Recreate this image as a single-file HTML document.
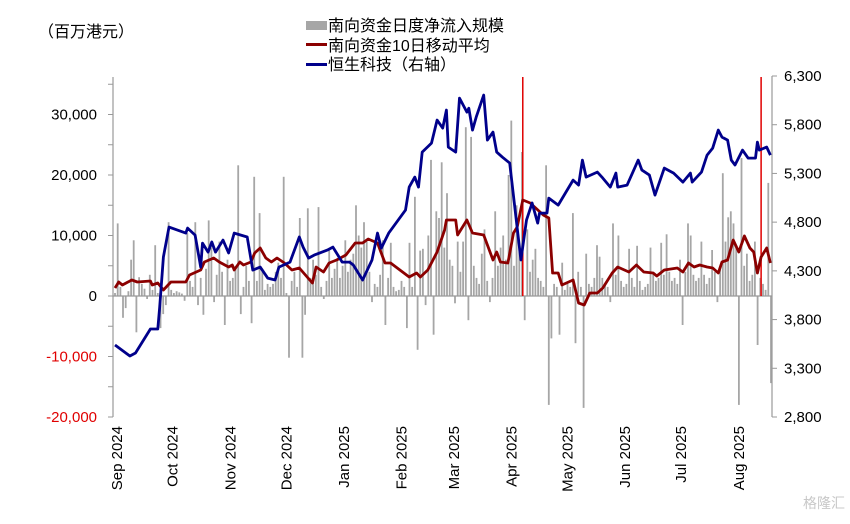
<!DOCTYPE html>
<html><head><meta charset="utf-8"><style>
html,body{margin:0;padding:0;background:#fff;width:850px;height:524px;overflow:hidden}
svg{display:block;font-family:"Liberation Sans","Noto Sans CJK SC",sans-serif}
</style></head><body>
<svg id="chart" width="850" height="524" viewBox="0 0 850 524">
<text x="38" y="37" font-size="16" fill="#000">（百万港元）</text>
<g>
<rect x="306" y="21" width="21" height="9" fill="#a6a6a6"/>
<text x="328" y="31" font-size="16">南向资金日度净流入规模</text>
<rect x="306" y="43" width="21" height="3" fill="#8b0000"/>
<text x="328" y="51" font-size="16">南向资金10日移动平均</text>
<rect x="306" y="63" width="21" height="3" fill="#00008b"/>
<text x="328" y="70" font-size="16">恒生科技（右轴）</text>
</g>
<g id="bars"></g>
<g id="axes"></g>
<g id="lines"></g>
<text x="845" y="508" font-size="14" fill="#c8c8c8" text-anchor="end">格隆汇</text>
</svg>
<script>
const flows=[500,12000,1500,-3600,-2000,800,6000,9200,-6000,3100,
2000,1200,-500,3500,1000,8400,500,-5300,-3000,-1500,
12200,1000,500,800,600,400,-800,10400,2500,1500,
12200,-1500,3000,-3100,4500,12500,8000,-1000,3500,9000,
4000,-4800,6000,2500,3000,5000,21600,-3000,1500,5000,
2500,-4500,19700,2500,13700,4500,1000,2000,1500,2000,
4000,5500,3000,19700,500,-10200,2500,4000,1500,12900,
-10200,-3100,14500,3000,6000,3500,14700,1500,-500,2500,
7500,3000,4500,6000,3000,5000,9200,4000,6000,7000,
15000,10000,8000,12200,9000,4000,-1000,2000,1500,3500,
9200,-4800,3000,8800,1500,800,1000,2500,1500,-5300,
8800,1500,16400,-8900,7500,7800,-1500,10000,22500,-6400,
14000,12900,22100,8000,17000,6000,5000,-1200,9000,4000,
9000,27900,-4000,26300,5000,3000,2000,7000,11000,2500,
-1000,3000,14000,5000,8000,10000,6000,20000,29000,5000,
15000,8000,23800,-4000,11000,4000,6000,7800,3000,2500,
1500,21600,-18000,-7000,2000,1500,-6400,5500,1000,2000,
1500,13700,-7800,4000,1500,-18500,7000,2000,1500,3000,
8400,6500,3000,2000,1500,-1000,12000,3500,10000,2500,
1500,2000,7800,3000,1500,8300,2500,1000,1500,2000,
8000,4000,2500,3000,8800,3500,10200,4000,2500,3000,
2000,6000,-4800,4000,12000,10000,3500,2500,3000,9000,
3500,2000,3000,7600,4000,-1000,4500,20300,9000,13000,
14000,12000,8000,-18000,22800,5000,7000,2500,3500,9000,
-8100,3000,2000,1000,18700,-14400];
const maDays=[0,2,4,9,12,19,20,23,26,30,38,40,46,48,53,56,61,63,64,67,69,73,75,78,81,84,87,91,95,99,106,108,112,115,119,124,129,133,136,141,145,148,158,162,164,168,173,177,178,183,184,189,192,198,203,205,207,211,214,216,219,223,230,233,235,238,240,246,249,252,255,259,262,267,270,276,280,284,289,291,295,302,305,308,311,314,318,321,324,326,329,332,335,338,341,343,345,347,350,352];
const maVals=[1322,2314,1818,2645,2314,2480,1818,2149,992,2314,2314,3471,4298,5620,6281,5620,4794,5124,4298,5620,5124,5620,7108,7934,6281,5620,6281,5455,4298,4628,2149,4794,3967,5455,5951,6777,8761,8761,9422,8761,5455,5455,3141,3802,3141,4298,7273,10910,12563,12563,10083,12563,10414,10083,5951,7273,5620,5455,10414,11406,15869,15373,13389,12894,3802,3802,1818,2645,-1157,-1488,496,496,1322,3802,4794,3967,5124,3967,3802,3306,4298,4628,3967,5455,4794,5124,4794,4628,3802,5620,5951,9257,7273,9918,7934,7273,3802,6447,7934,5455];
const hsDays=[0,8,11,19,23,24,26,29,38,39,43,46,47,50,52,54,58,61,64,71,74,78,82,86,88,94,99,101,104,107,114,117,122,126,128,133,138,141,143,147,156,158,161,163,165,170,173,176,178,179,183,185,189,190,192,194,198,200,203,205,208,212,218,221,224,227,228,232,233,238,246,249,251,253,259,262,266,269,270,275,281,283,287,290,295,300,305,309,310,315,318,321,324,326,329,331,333,337,340,344,345,346,350,352];
const hsVals=[3539,3426,3457,3703,3703,3929,4442,4749,4688,4739,4667,4339,4585,4493,4596,4493,4616,4483,4688,4647,4308,4339,4226,4206,4339,4390,4647,4544,4431,4462,4513,4544,4390,4390,4360,4206,4411,4688,4534,4688,4924,5160,5262,5160,5519,5611,5847,5765,5950,5570,5519,6073,5929,5970,5745,5878,6104,5642,5724,5519,5468,5406,4411,4821,4996,4790,4893,4893,5047,4975,5232,5180,5437,5262,5314,5252,5160,5303,5160,5180,5437,5334,5283,5078,5355,5303,5211,5303,5211,5314,5488,5560,5745,5673,5642,5437,5386,5539,5457,5457,5622,5539,5570,5488];
const leftTicks=[-20000,-10000,0,10000,20000,30000];
const rightTicks=[2800,3300,3800,4300,4800,5300,5800,6300];
const monthLabels=["Sep 2024","Oct 2024","Nov 2024","Dec 2024","Jan 2025","Feb 2025","Mar 2025","Apr 2025","May 2025","Jun 2025","Jul 2025","Aug 2025"];
const monthDays=[1,31,62,92,123,154,182,213,243,274,304,335];
const eventDays=[219,347];

const NS="http://www.w3.org/2000/svg";
const yL=v=>296-v*121/20000;
const yR=v=>417-(v-2800)*341/3500;
const xD=d=>115+d*1.862;
const xI=i=>115+i*(771-115)/(flows.length-1);
function mk(tag,attrs,parent){const e=document.createElementNS(NS,tag);for(const k in attrs)e.setAttribute(k,attrs[k]);parent.appendChild(e);return e;}
const bars=document.getElementById('bars'),axes=document.getElementById('axes'),lines=document.getElementById('lines');
flows.forEach((v,i)=>{const y=yL(v),y0=yL(0);
 const r=mk('rect',{x:(xI(i)-0.9).toFixed(1),y:Math.min(y,y0).toFixed(1),width:1.8,height:Math.abs(y-y0).toFixed(1),fill:'#a6a6a6'},bars);
 
 });
let a=mk('line',{x1:113,y1:77,x2:113,y2:417,stroke:'#999','stroke-width':1.2},axes);


a=mk('line',{x1:772,y1:76,x2:772,y2:417,stroke:'#999','stroke-width':1.2},axes);


a=mk('line',{x1:113,y1:yL(0),x2:772,y2:yL(0),stroke:'#999','stroke-width':1.2},axes);


for(let v=-20000;v<=35000;v+=5000){mk('line',{x1:108,y1:yL(v),x2:113,y2:yL(v),stroke:'#999'},axes);}
leftTicks.forEach(v=>{const t=mk('text',{x:97,y:yL(v)+5,'font-size':15,'text-anchor':'end',fill:v<0?'#e00000':'#000'},axes);
 t.textContent=v.toLocaleString('en-US');
 
 });
rightTicks.forEach(v=>{mk('line',{x1:772,y1:yR(v),x2:777,y2:yR(v),stroke:'#999'},axes);
 const t=mk('text',{x:784,y:yR(v)+5,'font-size':15,fill:'#000'},axes);
 t.textContent=v.toLocaleString('en-US');
 
 });
monthLabels.forEach((m,i)=>{const x=xD(monthDays[i])+5;
 const t=mk('text',{x:0,y:0,'font-size':15,'text-anchor':'end',transform:`translate(${x.toFixed(1)},426) rotate(-90)`},axes);
 t.textContent=m;
 
 });
eventDays.forEach(d=>{const l=mk('line',{x1:xD(d),y1:77,x2:xD(d),y2:296,stroke:'#e00000','stroke-width':1.5},lines);
 
 });
function path(days,vals,yf,color,name){
 const d=days.map((dd,i)=>(i?'L':'M')+xD(dd).toFixed(1)+','+yf(vals[i]).toFixed(1)).join('');
 const p=mk('path',{d:d,fill:'none',stroke:color,'stroke-width':2.8,'stroke-linejoin':'round'},lines);
 
 }
path(maDays,maVals,yL,'#8b0000','ma10-line');
path(hsDays,hsVals,yR,'#00008b','hstech-line');
</script>
</body></html>
